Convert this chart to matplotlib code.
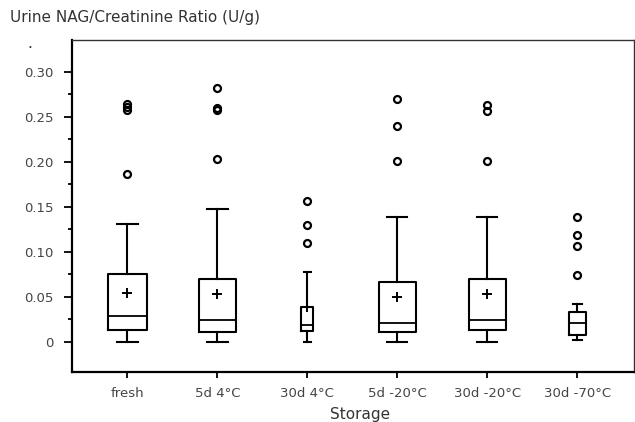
import matplotlib
matplotlib.use("Agg")
import matplotlib.pyplot as plt
import numpy as np
from matplotlib.ticker import FixedLocator

plt.rcParams['font.family'] = ['DejaVu Sans']

# ---- data ----
groups = ['fresh', '5d 4°C', '30d 4°C', '5d -20°C', '30d -20°C', '30d -70°C']
whislo = [0.0, 0.0, 0.0, 0.0, 0.0, 0.002]
q1 = [0.013, 0.011, 0.0115, 0.011, 0.013, 0.0074]
med = [0.028, 0.024, 0.019, 0.0204, 0.0237, 0.0204]
q3 = [0.075, 0.070, 0.039, 0.066, 0.070, 0.033]
whishi = [0.131, 0.147, 0.077, 0.139, 0.139, 0.042]
# mean of the last group is not visible in the picture
means = [0.0545, 0.0533, 0.039, 0.0497, 0.0533, None]
fliers = [
    [0.2637, 0.2610, 0.2575, 0.1867],
    [0.2819, 0.2590, 0.2570, 0.2030],
    [0.1567, 0.1297, 0.1093],
    [0.2693, 0.2397, 0.2011],
    [0.2633, 0.2560, 0.2011],
    [0.1389, 0.1186, 0.1060, 0.0744],
]
box_widths = [0.427, 0.41, 0.133, 0.408, 0.405, 0.186]

positions = np.arange(1, len(groups) + 1)

stats = []
for i in range(len(groups)):
    stats.append(dict(label=groups[i], whislo=whislo[i], q1=q1[i], med=med[i],
                      q3=q3[i], whishi=whishi[i], fliers=fliers[i]))

fig = plt.figure(figsize=(6.35, 4.22), dpi=100)
ax = fig.add_axes([71.7/635, 1 - 371.7/422, (634 - 71.7)/635, (371.7 - 40)/422])

line_kw = dict(color='black', linewidth=1.5)
ax.bxp(stats, positions=positions, widths=box_widths,
       capwidths=[w*0.55 for w in box_widths],
       showmeans=False, showfliers=True,
       boxprops=line_kw, whiskerprops=line_kw, capprops=line_kw,
       medianprops=dict(color='black', linewidth=1.3),
       flierprops=dict(marker='o', markerfacecolor='none', markeredgecolor='black',
                       markersize=5, markeredgewidth=1.6))

mean_vals = np.array([np.nan if m is None else m for m in means])
ax.plot(positions, mean_vals, linestyle='none', marker='+', markeredgecolor='black',
        markersize=7, markeredgewidth=1.4, zorder=3)

ax.set_xlim(0.38, 6.63)
ax.set_ylim(-0.0333, 0.335)
ax.yaxis.set_major_locator(FixedLocator([0, 0.05, 0.10, 0.15, 0.20, 0.25, 0.30]))
ax.set_yticklabels(['0', '0.05', '0.10', '0.15', '0.20', '0.25', '0.30'])
ax.yaxis.set_minor_locator(FixedLocator([0.025, 0.075, 0.125, 0.175, 0.225, 0.275]))
ax.set_xticks(positions)
ax.set_xticklabels(groups)

ax.tick_params(axis='y', which='major', length=6, width=1.3, labelsize=9.5, colors='black', labelcolor='#444444', pad=7)
ax.tick_params(axis='y', which='minor', length=3, width=1.3, colors='black')
ax.tick_params(axis='x', length=4.5, width=1.3, labelsize=9.5, colors='black', labelcolor='#444444', pad=6.5)

for s in ['left', 'bottom']:
    ax.spines[s].set_linewidth(1.6)
for s in ['top', 'right']:
    ax.spines[s].set_linewidth(1.0)
    ax.spines[s].set_color('#333333')

ax.set_xlabel('Storage', fontsize=11, color='#333333')
ax.xaxis.set_label_coords((360 - 71.7)/562.3, (371.7 - 419)/331.7)
ax.xaxis.label.set_va('baseline')

fig.text(10/635, 1 - 22/422, 'Urine NAG/Creatinine Ratio (U/g)', fontsize=11,
         color='#333333', va='baseline', ha='left')
fig.text(30/635, 1 - 44/422, '.', fontsize=11, color='#333333', va='center', ha='center')

fig.savefig('out.png', dpi=100)
